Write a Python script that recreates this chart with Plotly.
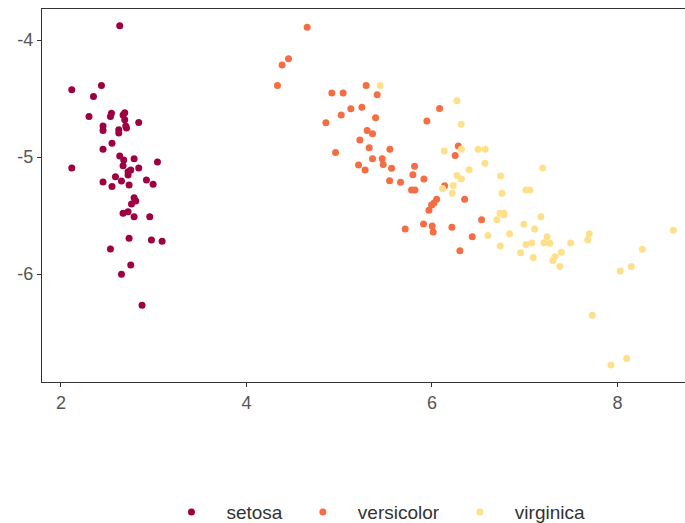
import plotly.graph_objects as go

species = ["setosa", "versicolor", "virginica"]
colors = ["#9E0142", "#F46D43", "#FEE08B"]

setosa_x = [2.634, 2.117, 2.437, 2.351, 2.303, 2.534, 2.545, 2.670, 2.688, 2.454,
            2.454, 2.624, 2.707, 2.839, 2.551, 2.454, 2.634, 2.789, 3.041, 2.117,
            2.670, 2.839, 2.724, 2.724, 2.588, 2.653, 2.735, 2.454, 2.551, 2.922,
            2.994, 2.789, 2.761, 2.670, 2.724, 2.789, 2.958, 2.735, 2.976, 3.091,
            2.534, 2.753, 2.653, 2.875, 2.688, 2.699, 2.624, 2.807, 2.677, 2.753]
setosa_y = [-3.878, -4.426, -4.389, -4.483, -4.654, -4.654, -4.625, -4.640, -4.682, -4.734,
            -4.774, -4.768, -4.753, -4.705, -4.882, -4.933, -4.991, -5.014, -5.042, -5.093,
            -5.074, -5.093, -5.125, -5.153, -5.168, -5.205, -5.239, -5.213, -5.253, -5.196,
            -5.233, -5.348, -5.402, -5.481, -5.467, -5.510, -5.510, -5.695, -5.710, -5.721,
            -5.787, -5.924, -6.003, -6.266, -4.622, -4.734, -4.794, -5.376, -5.025, -5.110]

versicolor_x = [4.655, 4.454, 4.385, 4.335, 4.921, 5.043, 5.291, 5.410, 5.126, 5.245,
                5.022, 4.857, 5.393, 5.302, 5.360, 5.223, 5.324, 5.547, 4.961, 5.360,
                5.464, 5.475, 5.565, 5.209, 5.280, 5.544, 5.662, 5.813, 5.795, 5.914,
                5.781, 5.817, 6.083, 5.946, 6.284, 6.251, 6.051, 5.997, 5.968, 6.353,
                6.137, 5.712, 5.910, 6.003, 6.014, 6.216, 6.302, 6.536, 6.435, 6.022]
versicolor_y = [-3.892, -4.160, -4.214, -4.389, -4.454, -4.454, -4.389, -4.468, -4.588, -4.574,
                -4.642, -4.708, -4.665, -4.774, -4.802, -4.854, -4.920, -4.933, -4.962, -5.014,
                -5.014, -5.065, -5.096, -5.068, -5.110, -5.202, -5.216, -5.079, -5.151, -5.188,
                -5.282, -5.282, -4.586, -4.693, -4.905, -4.988, -5.361, -5.410, -5.455, -5.361,
                -5.245, -5.616, -5.573, -5.590, -5.641, -5.601, -5.801, -5.536, -5.682, -5.393]

virginica_x = [5.442, 6.270, 6.316, 6.133, 6.318, 6.499, 6.575, 6.572, 6.402, 6.270,
               6.318, 6.230, 6.115, 6.219, 6.741, 6.755, 7.194, 7.014, 7.057, 6.734,
               6.777, 6.701, 7.176, 6.992, 7.108, 6.604, 6.838, 7.241, 7.208, 7.273,
               7.014, 7.076, 7.496, 7.697, 7.680, 6.737, 6.957, 7.093, 7.395, 7.327,
               7.305, 7.378, 8.603, 8.269, 8.150, 8.031, 7.729, 8.100, 7.931, 6.777]
virginica_y = [-4.389, -4.520, -4.721, -4.948, -4.933, -4.933, -4.933, -5.053, -5.109, -5.159,
               -5.189, -5.243, -5.269, -5.310, -5.162, -5.310, -5.093, -5.282, -5.282, -5.481,
               -5.481, -5.536, -5.510, -5.575, -5.616, -5.670, -5.656, -5.682, -5.733, -5.738,
               -5.747, -5.735, -5.735, -5.656, -5.710, -5.761, -5.818, -5.858, -5.815, -5.853,
               -5.884, -5.935, -5.627, -5.789, -5.935, -5.975, -6.352, -6.723, -6.777, -5.496]

x_ticks = [2, 4, 6, 8]
y_ticks = [-4, -5, -6]
y_tick_labels = ["-4", "-5", "-6"]

xs = [setosa_x, versicolor_x, virginica_x]
ys = [setosa_y, versicolor_y, virginica_y]

fig = go.Figure()
for name, col, x, y in zip(species, colors, xs, ys):
    fig.add_trace(go.Scatter(
        x=x, y=y, mode="markers", name=name,
        marker=dict(color=col, size=7, line=dict(width=0)),
    ))

font_family = "Liberation Sans, Arial, sans-serif"
axis_common = dict(
    showgrid=False, zeroline=False, automargin=False,
    showline=True, linecolor="#333333", linewidth=1.3,
    ticks="outside", ticklen=4, tickcolor="#333333", tickwidth=1.1,
    tickfont=dict(family=font_family, size=18, color="#555555"),
)
fig.update_layout(
    width=685, height=523,
    margin=dict(l=42, r=0, t=9, b=141, autoexpand=False),
    paper_bgcolor="white", plot_bgcolor="white",
    showlegend=True,
    legend=dict(
        orientation="h", x=0.178, xanchor="left", y=-0.349, yanchor="middle",
        font=dict(family=font_family, size=19, color="#333333"),
        itemwidth=60,
    ),
    xaxis=dict(range=[1.796, 8.729], tickvals=x_ticks, mirror=True, **axis_common),
    yaxis=dict(range=[-6.923, -3.735], tickvals=y_ticks, ticktext=y_tick_labels, **axis_common),
)

fig.write_html(
    "out.html",
    config={"displayModeBar": False},
    post_script="document.body.style.margin='0';document.body.style.overflow='hidden';",
)
